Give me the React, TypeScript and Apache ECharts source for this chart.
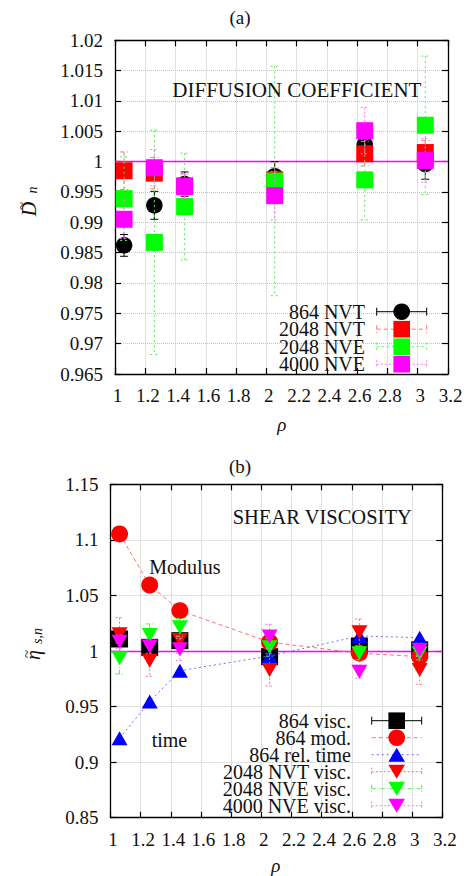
import React, { useEffect, useRef } from "react";
import * as echarts from "echarts";

// ---------- data ----------
const rho = [1.06, 1.26, 1.46, 2.055, 2.65, 3.05];
const xTicks = { min: 1, max: 3.2, step: 0.2 };

// (a) diffusion coefficient
const dNVT864 = [0.9862, 0.9928, 0.9963, 0.9976, 1.0028, 0.9996];
const dNVT864Err = [0.0018, 0.0023, 0.002, 0.0024, 0.0015, 0.0025];
const dNVT2048 = [0.9985, 0.9981, 0.996, 0.997, 1.0013, 1.0015];
const dNVT2048Err = [0.0031, 0.0026, 0.002, 0.002, 0.002, 0.002];
const dNVE2048 = [0.9939, 0.9867, 0.9926, 0.9968, 0.997, 1.006];
const dNVE2048Err = [0.0069, 0.0185, 0.0088, 0.0189, 0.0066, 0.0114];
const dNVE4000 = [0.9905, 0.999, 0.9959, 0.9944, 1.0051, 1.0002];
const dNVE4000Err = [0.0032, 0.003, 0.002, 0.004, 0.0038, 0.0036];
const dTicks = { min: 0.965, max: 1.02, step: 0.005 };

// (b) shear viscosity
const vVisc864 = [1.0108, 1.0033, 1.0093, 0.9949, 1.0045, 1.001];
const vVisc864Err = [0.003, 0.003, 0.003, 0.003, 0.003, 0.003];
const vMod864 = [1.1053, 1.0593, 1.0363, 1.008, 0.998, 0.995];
const vTime864 = [0.9216, 0.9545, 0.9823, 0.9955, 1.0135, 1.012];
const vNVT2048 = [1.015, 0.9913, 1.01, 0.983, 1.0168, 0.983];
const vNVT2048Err = [0.015, 0.014, 0.012, 0.0145, 0.012, 0.013];
const vNVE2048 = [0.9934, 1.0144, 1.0213, 1.0033, 0.998, 0.998];
const vNVE2048Err = [0.014, 0.01, 0.008, 0.008, 0.006, 0.006];
const vNVE4000 = [1.0084, 1.004, 1.0015, 1.013, 0.9814, 1.001];
const vNVE4000Err = [0.006, 0.006, 0.01, 0.011, 0.006, 0.006];
const vTicks = { min: 0.85, max: 1.15, step: 0.05 };

const legendA = ["864 NVT", "2048 NVT", "2048 NVE", "4000 NVE"];
const legendB = ["864 visc.", "864 mod.", "864 rel. time", "2048 NVT visc.", "2048 NVE visc.", "4000 NVE visc."];

// ---------- styling ----------
const FONT = "Liberation Serif";
const FS = 19;
const TXT = "#111";

const G0 = { left: 115, top: 40.3, width: 333, height: 333.7 };
const G1 = { left: 110.5, top: 484.3, width: 331.8, height: 333.4 };

function errSeries(xi: number, yi: number, ys: number[], es: number[], color: string, dash: number[] | null, z: number, cap = 4) {
  return {
    type: "custom",
    xAxisIndex: xi,
    yAxisIndex: yi,
    z,
    silent: true,
    data: rho.map((x, i) => [x, ys[i], es[i]]),
    encode: { x: 0, y: 1 },
    renderItem: (params: any, api: any) => {
      const x = api.value(0);
      const y = api.value(1);
      const e = api.value(2);
      const t = api.coord([x, y + e]);
      const b = api.coord([x, y - e]);
      const style: any = { stroke: color, lineWidth: 1 };
      if (dash) style.lineDash = dash;
      return {
        type: "group",
        children: [
          { type: "line", shape: { x1: t[0], y1: t[1], x2: b[0], y2: b[1] }, style },
          { type: "line", shape: { x1: t[0] - cap, y1: t[1], x2: t[0] + cap, y2: t[1] }, style },
          { type: "line", shape: { x1: b[0] - cap, y1: b[1], x2: b[0] + cap, y2: b[1] }, style },
        ],
      };
    },
  };
}

function scat(xi: number, yi: number, ys: number[], symbol: string, size: any, color: string, z: number, rotate = 0) {
  return {
    type: "scatter",
    xAxisIndex: xi,
    yAxisIndex: yi,
    z,
    silent: true,
    data: rho.map((x, i) => [x, ys[i]]),
    symbol,
    symbolSize: size,
    symbolRotate: rotate,
    itemStyle: { color, opacity: 1 },
  };
}

function xAxisPair(grid: number) {
  const common = {
    type: "value",
    gridIndex: grid,
    min: xTicks.min,
    max: xTicks.max,
    interval: xTicks.step,
    axisLine: { show: true, onZero: false, lineStyle: { color: "#000", width: 1.3 } },
    axisTick: { show: true, inside: true, length: 6, lineStyle: { color: "#000", width: 1.2 } },
  };
  return [
    {
      ...common,
      position: "bottom",
      axisLabel: {
        show: true,
        fontFamily: FONT,
        fontSize: FS,
        color: TXT,
        margin: 12,
        padding: [0, 0, 0, 5],
        showMinLabel: true,
        showMaxLabel: true,
        formatter: (v: number) => String(+v.toFixed(1)),
      },
      splitLine: { show: true, lineStyle: { color: "#c4c4c4", type: "dotted", width: 1 } },
    },
    { ...common, position: "top", axisLabel: { show: false }, splitLine: { show: false } },
  ];
}

function yAxisPair(grid: number, t: { min: number; max: number; step: number }, dec: number) {
  const common = {
    type: "value",
    gridIndex: grid,
    min: t.min,
    max: t.max,
    interval: t.step,
    axisLine: { show: true, onZero: false, lineStyle: { color: "#000", width: 1.3 } },
    axisTick: { show: true, inside: true, length: 6, lineStyle: { color: "#000", width: 1.2 } },
  };
  return [
    {
      ...common,
      position: "left",
      axisLabel: {
        show: true,
        fontFamily: FONT,
        fontSize: FS,
        color: TXT,
        margin: 12,
        padding: [8, 0, 0, 0],
        showMinLabel: true,
        showMaxLabel: true,
        formatter: (v: number) => String(+v.toFixed(dec)),
      },
      splitLine: { show: true, lineStyle: { color: "#c4c4c4", type: "dotted", width: 1 } },
    },
    { ...common, position: "right", axisLabel: { show: false }, splitLine: { show: false } },
  ];
}

function txt(x: number, y: number, text: string, opts: any = {}) {
  return {
    type: "text",
    x,
    y,
    z: 100,
    rotation: opts.rotation || 0,
    style: {
      text,
      fontFamily: FONT,
      fontSize: opts.size || FS,
      fontStyle: opts.italic ? "italic" : "normal",
      fill: TXT,
      align: opts.align || "left",
      verticalAlign: "middle",
    },
  };
}

function marker(kind: string, cx: number, cy: number, color: string) {
  const s = 8.3;
  const style = { fill: color };
  if (kind === "circle") return { type: "circle", z: 101, shape: { cx, cy, r: s }, style };
  if (kind === "rect") return { type: "rect", z: 101, shape: { x: cx - s, y: cy - s, width: 2 * s, height: 2 * s }, style };
  if (kind === "up")
    return { type: "polygon", z: 101, shape: { points: [[cx, cy - 7], [cx + s, cy + 7], [cx - s, cy + 7]] }, style };
  return { type: "polygon", z: 101, shape: { points: [[cx - s, cy - 7], [cx + s, cy - 7], [cx, cy + 7]] }, style };
}

function legendRow(textRight: number, y: number, label: string, x1: number, x2: number, color: string, dash: number[] | null, kind: string, mColor: string, caps = true) {
  const style: any = { stroke: color, lineWidth: 1 };
  if (dash) style.lineDash = dash;
  const els: any[] = [txt(textRight, y, label, { align: "right", size: 20 })];
  els.push({ type: "line", z: 100, shape: { x1, y1: y, x2, y2: y }, style });
  if (caps) {
    els.push({ type: "line", z: 100, shape: { x1, y1: y - 4, x2: x1, y2: y + 4 }, style });
    els.push({ type: "line", z: 100, shape: { x1: x2, y1: y - 4, x2, y2: y + 4 }, style });
  }
  els.push(marker(kind, (x1 + x2) / 2, y, mColor));
  return els;
}

export default function App() {
  const ref = useRef<HTMLDivElement>(null);

  useEffect(() => {
    if (!ref.current) return;
    const chart = echarts.init(ref.current, null, { renderer: "svg" });

    const oneLine = (z: number) => ({
      markLine: {
        silent: true,
        symbol: "none",
        label: { show: false },
        lineStyle: { color: "#ff00ff", type: "solid", width: 1.3 },
        data: [{ yAxis: 1 }],
        z,
      },
    });

    const RED_L = "#ff7070";
    const GRN_L = "#55e855";
    const MAG_L = "#ff70ff";
    const BLU_L = "#7070ff";

    const series: any[] = [
      // (a)
      { ...scat(0, 0, [], "none", 0, "#000", 1), data: [], ...oneLine(1) },
      errSeries(0, 0, dNVT864, dNVT864Err, "#000", null, 2),
      scat(0, 0, dNVT864, "circle", 16.5, "#000", 3),
      errSeries(0, 0, dNVT2048, dNVT2048Err, RED_L, [4, 3], 4),
      scat(0, 0, dNVT2048, "rect", 17, "#ff0000", 5),
      errSeries(0, 0, dNVE2048, dNVE2048Err, GRN_L, [2, 3], 6),
      scat(0, 0, dNVE2048, "rect", 17, "#00ff00", 7),
      errSeries(0, 0, dNVE4000, dNVE4000Err, MAG_L, [2, 2], 8),
      scat(0, 0, dNVE4000, "rect", 17, "#ff00ff", 9),
      // (b)
      { ...scat(2, 2, [], "none", 0, "#000", 1), data: [], ...oneLine(1) },
      errSeries(2, 2, vVisc864, vVisc864Err, "#000", null, 2),
      scat(2, 2, vVisc864, "rect", 17, "#000", 3),
      {
        type: "line",
        xAxisIndex: 2,
        yAxisIndex: 2,
        z: 4,
        silent: true,
        data: rho.map((x, i) => [x, vMod864[i]]),
        symbol: "circle",
        symbolSize: 17,
        showSymbol: true,
        itemStyle: { color: "#ff0000", opacity: 1 },
        lineStyle: { color: RED_L, type: [4, 3], width: 1 },
      },
      {
        type: "line",
        xAxisIndex: 2,
        yAxisIndex: 2,
        z: 5,
        silent: true,
        data: rho.map((x, i) => [x, vTime864[i]]),
        symbol: "triangle",
        symbolSize: [16, 14],
        showSymbol: true,
        itemStyle: { color: "#0000ff", opacity: 1 },
        lineStyle: { color: BLU_L, type: [2, 3], width: 1 },
      },
      errSeries(2, 2, vNVT2048, vNVT2048Err, RED_L, [2, 2], 6),
      scat(2, 2, vNVT2048, "triangle", [16, 14], "#ff0000", 7, 180),
      errSeries(2, 2, vNVE2048, vNVE2048Err, GRN_L, [4, 2, 1, 2], 8),
      scat(2, 2, vNVE2048, "triangle", [16, 14], "#00ff00", 9, 180),
      errSeries(2, 2, vNVE4000, vNVE4000Err, MAG_L, [2, 2], 10),
      scat(2, 2, vNVE4000, "triangle", [16, 14], "#ff00ff", 11, 180),
    ];

    const aRows = [311.7, 329.2, 346.7, 364.2];
    const bRows = [720.7, 737.7, 754.7, 771.7, 788.7, 805.7];
    const R = Math.PI / 2;

    const graphic: any[] = [
      txt(240, 17, "(a)", { align: "center" }),
      txt(240, 466, "(b)", { align: "center" }),
      txt(172.3, 90, "DIFFUSION COEFFICIENT", { size: 21 }),
      txt(232.7, 517, "SHEAR VISCOSITY", { size: 20.5 }),
      txt(149.3, 567, "Modulus", { size: 20 }),
      txt(151.7, 739.5, "time", { size: 20 }),
      txt(281.7, 424, "ρ", { italic: true, align: "center" }),
      txt(275.7, 865, "ρ", { italic: true, align: "center" }),
      // y titles (rotated, reading bottom-to-top)
      txt(29, 209, "D", { italic: true, align: "center", rotation: R, size: 20 }),
      txt(21.5, 206, "~", { align: "center", rotation: R, size: 15 }),
      txt(32.5, 190, "n", { italic: true, align: "center", rotation: R, size: 14 }),
      txt(33, 655, "\u03b7", { italic: true, align: "center", rotation: R, size: 20 }),
      txt(26.5, 654, "~", { align: "center", rotation: R, size: 15 }),
      txt(37.5, 636, "s,n", { italic: true, align: "center", rotation: R, size: 14 }),
      ...legendRow(365, aRows[0], legendA[0], 376.7, 426.7, "#000", null, "circle", "#000"),
      ...legendRow(365, aRows[1], legendA[1], 376.7, 426.7, RED_L, [4, 3], "rect", "#ff0000"),
      ...legendRow(365, aRows[2], legendA[2], 376.7, 426.7, GRN_L, [2, 3], "rect", "#00ff00"),
      ...legendRow(365, aRows[3], legendA[3], 376.7, 426.7, MAG_L, [2, 2], "rect", "#ff00ff"),
      ...legendRow(351, bRows[0], legendB[0], 371.7, 421.7, "#000", null, "rect", "#000"),
      ...legendRow(351, bRows[1], legendB[1], 371.7, 421.7, RED_L, [4, 3], "circle", "#ff0000", false),
      ...legendRow(351, bRows[2], legendB[2], 371.7, 421.7, BLU_L, [2, 3], "up", "#0000ff", false),
      ...legendRow(351, bRows[3], legendB[3], 371.7, 421.7, RED_L, [2, 2], "down", "#ff0000"),
      ...legendRow(351, bRows[4], legendB[4], 371.7, 421.7, GRN_L, [4, 2, 1, 2], "down", "#00ff00"),
      ...legendRow(351, bRows[5], legendB[5], 371.7, 421.7, MAG_L, [2, 2], "down", "#ff00ff"),
    ];

    chart.setOption({
      animation: false,
      backgroundColor: "#fff",
      textStyle: { fontFamily: FONT },
      grid: [
        { left: G0.left, top: G0.top, width: G0.width, height: G0.height, containLabel: false },
        { left: G1.left, top: G1.top, width: G1.width, height: G1.height, containLabel: false },
      ],
      xAxis: [...xAxisPair(0), ...xAxisPair(1)],
      yAxis: [...yAxisPair(0, dTicks, 3), ...yAxisPair(1, vTicks, 2)],
      series,
      graphic,
    });

    return () => chart.dispose();
  }, []);

  return <div ref={ref} style={{ position: "absolute", left: 0, top: 0, width: 468, height: 876 }} />;
}
